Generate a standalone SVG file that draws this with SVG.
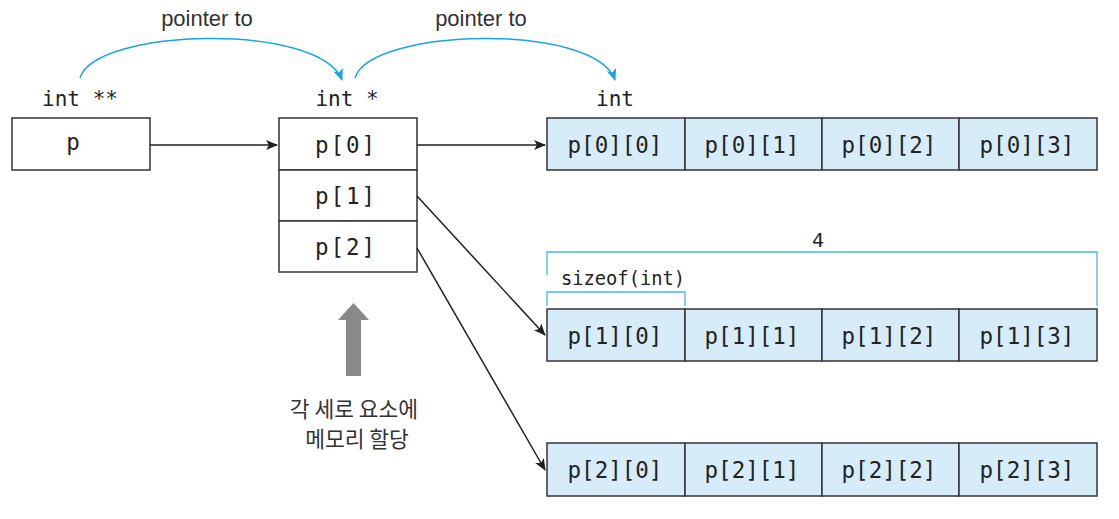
<svg xmlns="http://www.w3.org/2000/svg" width="1119" height="519" viewBox="0 0 1119 519">
<defs>
<style>
.box{fill:#fff;stroke:#333;stroke-width:1.5}
.cell{fill:#d6edf9;stroke:#333;stroke-width:1.5}
.mono{font-family:"DejaVu Sans Mono","Liberation Mono",monospace;font-size:22.5px;fill:#222}
.type{font-family:"DejaVu Sans Mono","Liberation Mono",monospace;font-size:21px;fill:#222}
.small{font-family:"DejaVu Sans Mono","Liberation Mono",monospace;font-size:20px;fill:#222}
.lbl{font-family:"Liberation Sans",Arial,sans-serif;font-size:22px;fill:#333}
.kr{font-family:"Noto Sans CJK KR","Noto Sans",sans-serif;font-size:21.5px;fill:#333}
.conn{fill:none;stroke:#231f20;stroke-width:1.5}
.blue{fill:none;stroke:#1aa3e2;stroke-width:1.5}
.brk{fill:none;stroke:#4bb4e6;stroke-width:1.3}
</style>
<marker id="ah" markerWidth="12" markerHeight="10" refX="11" refY="5" orient="auto" markerUnits="userSpaceOnUse">
<path d="M0,0 L12,5 L0,10 L3,5 Z" fill="#231f20"/>
</marker>
<marker id="bh" markerWidth="12" markerHeight="10" refX="11" refY="5" orient="auto" markerUnits="userSpaceOnUse">
<path d="M0,0 L12,5 L0,10 L3,5 Z" fill="#1aa3e2"/>
</marker>
</defs>
<rect width="1119" height="519" fill="#fff"/>

<g id="labels">
<text class="lbl" x="207" y="26" text-anchor="middle">pointer to</text>
<text class="lbl" x="481" y="26" text-anchor="middle">pointer to</text>
<text class="type" x="80" y="106" text-anchor="middle">int **</text>
<text class="type" x="347" y="106" text-anchor="middle">int *</text>
<text class="type" x="615" y="106" text-anchor="middle">int</text>
</g>

<g id="node-p">
<rect class="box" x="12" y="118" width="138" height="52"/>
<text class="mono" x="73" y="150" text-anchor="middle">p</text>
</g>

<g id="node-col">
<rect class="box" x="279" y="118" width="138" height="52"/>
<rect class="box" x="279" y="170" width="138" height="51"/>
<rect class="box" x="279" y="221" width="138" height="51"/>
<text class="mono" x="346" y="153" text-anchor="middle" letter-spacing="2">p[0]</text>
<text class="mono" x="346" y="204" text-anchor="middle" letter-spacing="2">p[1]</text>
<text class="mono" x="346" y="255" text-anchor="middle" letter-spacing="2">p[2]</text>
</g>

<g id="row0">
<rect class="cell" x="547" y="118" width="138" height="52"/>
<rect class="cell" x="685" y="118" width="137" height="52"/>
<rect class="cell" x="822" y="118" width="137" height="52"/>
<rect class="cell" x="959" y="118" width="138" height="52"/>
<text class="mono" x="615" y="153" text-anchor="middle">p[0][0]</text>
<text class="mono" x="752" y="153" text-anchor="middle">p[0][1]</text>
<text class="mono" x="889" y="153" text-anchor="middle">p[0][2]</text>
<text class="mono" x="1027" y="153" text-anchor="middle">p[0][3]</text>
</g>

<g id="row1">
<rect class="cell" x="547" y="309" width="138" height="52"/>
<rect class="cell" x="685" y="309" width="137" height="52"/>
<rect class="cell" x="822" y="309" width="137" height="52"/>
<rect class="cell" x="959" y="309" width="138" height="52"/>
<text class="mono" x="615" y="344" text-anchor="middle">p[1][0]</text>
<text class="mono" x="752" y="344" text-anchor="middle">p[1][1]</text>
<text class="mono" x="889" y="344" text-anchor="middle">p[1][2]</text>
<text class="mono" x="1027" y="344" text-anchor="middle">p[1][3]</text>
</g>

<g id="row2">
<rect class="cell" x="547" y="443" width="138" height="53"/>
<rect class="cell" x="685" y="443" width="137" height="53"/>
<rect class="cell" x="822" y="443" width="137" height="53"/>
<rect class="cell" x="959" y="443" width="138" height="53"/>
<text class="mono" x="615" y="478" text-anchor="middle">p[2][0]</text>
<text class="mono" x="752" y="478" text-anchor="middle">p[2][1]</text>
<text class="mono" x="889" y="478" text-anchor="middle">p[2][2]</text>
<text class="mono" x="1027" y="478" text-anchor="middle">p[2][3]</text>
</g>

<g id="brackets">
<path class="brk" d="M547,275 V252 H1097 V306"/>
<path class="brk" d="M547,306 V292 H685 V306"/>
<text class="small" x="818" y="247" text-anchor="middle">4</text>
<text class="small" x="561" y="285" textLength="124" lengthAdjust="spacingAndGlyphs">sizeof(int)</text>
</g>

<g id="note">
<path d="M346,376 V320 H338 L353.5,303 L369,320 H361 V376 Z" fill="#898989"/>
<text class="kr" x="354" y="417" text-anchor="middle">각 세로 요소에</text>
<text class="kr" x="357" y="447" text-anchor="middle">메모리 할당</text>
</g>

<g id="connectors">
<line class="conn" x1="150" y1="145" x2="277" y2="145" marker-end="url(#ah)"/>
<line class="conn" x1="417" y1="145" x2="545" y2="145" marker-end="url(#ah)"/>
<line class="conn" x1="417" y1="196" x2="545" y2="335" marker-end="url(#ah)"/>
<line class="conn" x1="417" y1="248" x2="545" y2="470" marker-end="url(#ah)"/>
<path class="blue" d="M80,78 C95,28 320,22 342,80" marker-end="url(#bh)"/>
<path class="blue" d="M355,78 C370,28 595,22 615,80" marker-end="url(#bh)"/>
</g>
</svg>
